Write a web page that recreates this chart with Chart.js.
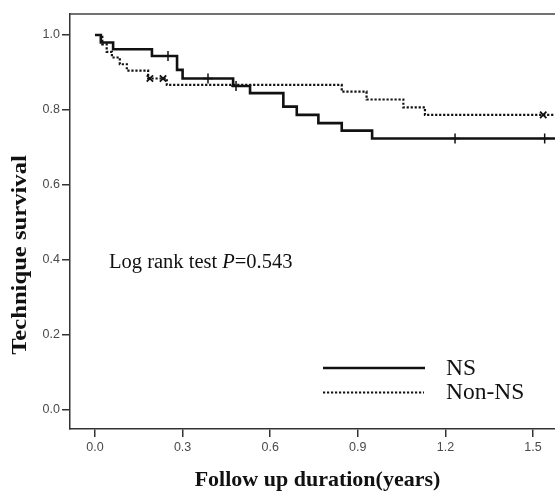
<!DOCTYPE html>
<html>
<head>
<meta charset="utf-8">
<script src="https://cdn.jsdelivr.net/npm/chart.js@4.4.1/dist/chart.umd.min.js"></script>
<style>
html,body{margin:0;padding:0;background:#fff;overflow:hidden;}
#wrap{width:555px;height:491px;overflow:hidden;position:relative;}
canvas{display:block;}
</style>
</head>
<body>
<div id="wrap"><canvas id="c" width="580" height="491" style="width:580px;height:491px"></canvas></div>
<script>
// ---- data ----
const nsTimes = [0, 0.020, 0.062, 0.195, 0.281, 0.300, 0.473, 0.531, 0.645, 0.691, 0.765, 0.845, 0.949, 1.60];
const nsSurv  = [1.0, 0.980, 0.962, 0.944, 0.907, 0.884, 0.864, 0.845, 0.809, 0.787, 0.765, 0.745, 0.724, 0.724];
const nonTimes = [0, 0.025, 0.040, 0.058, 0.085, 0.109, 0.182, 0.246, 0.845, 0.930, 1.056, 1.130, 1.60];
const nonSurv  = [1.0, 0.975, 0.955, 0.940, 0.922, 0.905, 0.884, 0.867, 0.849, 0.828, 0.807, 0.787, 0.787];
const nsCensorTimes = [0.250, 0.387, 0.483, 1.233, 1.540];
const nsCensorSurv  = [0.944, 0.884, 0.864, 0.724, 0.724];
const nonCensorTimes = [0.188, 0.233, 1.535];
const nonCensorSurv  = [0.884, 0.884, 0.787];
const xTicks = [0.0, 0.3, 0.6, 0.9, 1.2, 1.5];
const yTicks = [0.0, 0.2, 0.4, 0.6, 0.8, 1.0];
const seriesNames = ['NS', 'Non-NS'];
const xTitle = 'Follow up duration(years)';
const yTitle = 'Technique survival';

const pts = (t, s) => t.map((v, i) => ({x: v, y: s[i]}));
const INK = '#111';

const decor = {
  id: 'decor',
  afterDraw(chart) {
    const ctx = chart.ctx, a = chart.chartArea;
    ctx.save();
    // frame top & right
    ctx.strokeStyle = '#444';
    ctx.lineWidth = 1.5;
    ctx.beginPath();
    ctx.moveTo(a.left, a.top);
    ctx.lineTo(a.right, a.top);
    ctx.lineTo(a.right, a.bottom);
    ctx.stroke();
    // axis titles
    ctx.fillStyle = '#111';
    ctx.font = 'bold 22px "Liberation Serif", "Times New Roman", serif';
    ctx.textAlign = 'center';
    ctx.textBaseline = 'alphabetic';
    ctx.fillText(xTitle, (a.left + a.right) / 2, 486);
    ctx.save();
    ctx.translate(26, 255);
    ctx.rotate(-Math.PI / 2);
    ctx.scale(1.12, 1);
    ctx.fillText(yTitle, 0, 0);
    ctx.restore();
    // log rank text
    ctx.textAlign = 'left';
    let x = 109, y = 268;
    ctx.font = '20.5px "Liberation Serif", "Times New Roman", serif';
    const s1 = 'Log rank test ';
    ctx.fillText(s1, x, y); x += ctx.measureText(s1).width;
    ctx.font = 'italic 20.5px "Liberation Serif", "Times New Roman", serif';
    ctx.fillText('P', x, y); x += ctx.measureText('P').width;
    ctx.font = '20.5px "Liberation Serif", "Times New Roman", serif';
    ctx.fillText('=0.543', x, y);
    // legend
    ctx.strokeStyle = INK;
    ctx.lineWidth = 2.6;
    ctx.setLineDash([]);
    ctx.beginPath(); ctx.moveTo(323, 368); ctx.lineTo(425, 368); ctx.stroke();
    ctx.lineWidth = 2.2;
    ctx.setLineDash([2.2, 1.8]);
    ctx.beginPath(); ctx.moveTo(323, 392.5); ctx.lineTo(424, 392.5); ctx.stroke();
    ctx.setLineDash([]);
    ctx.font = '23.5px "Liberation Serif", "Times New Roman", serif';
    ctx.fillText(seriesNames[0], 446, 375);
    ctx.fillText(seriesNames[1], 446, 399);
    ctx.restore();
  }
};

new Chart(document.getElementById('c'), {
  type: 'line',
  data: {
    datasets: [
      { label: seriesNames[0], data: pts(nsTimes, nsSurv), stepped: 'before', borderColor: INK, borderWidth: 2.6, pointRadius: 0, fill: false },
      { label: seriesNames[1], data: pts(nonTimes, nonSurv), stepped: 'before', borderColor: INK, borderWidth: 2.2, borderDash: [2.2, 1.8], pointRadius: 0, fill: false },
      { label: 'NS censored', data: pts(nsCensorTimes, nsCensorSurv), showLine: false, pointStyle: 'cross', pointRadius: 5, pointBorderWidth: 1.5, pointBorderColor: INK, pointBackgroundColor: INK },
      { label: 'Non-NS censored', data: pts(nonCensorTimes, nonCensorSurv), showLine: false, pointStyle: 'crossRot', pointRadius: 4.5, pointBorderWidth: 1.8, pointBorderColor: INK, pointBackgroundColor: INK }
    ]
  },
  options: {
    responsive: false,
    animation: false,
    devicePixelRatio: 1,
    layout: { padding: { top: 14, right: 15, left: 0, bottom: 0 } },
    plugins: { legend: { display: false }, tooltip: { enabled: false } },
    scales: {
      x: {
        type: 'linear',
        min: -0.0856, max: 1.6096,
        afterFit(s) { s.height = 62; },
        afterBuildTicks(s) { s.ticks = xTicks.map(v => ({ value: v })); },
        ticks: { callback: v => v.toFixed(1), color: '#4a4a4a', font: { family: '"Liberation Sans", Arial, sans-serif', size: 12.5 }, padding: 3, maxRotation: 0 },
        grid: { drawOnChartArea: false, drawTicks: true, tickLength: 8, color: '#333', lineWidth: 1.5 },
        border: { display: true, color: '#333', width: 1.5 }
      },
      y: {
        type: 'linear',
        min: -0.0507, max: 1.056,
        afterFit(s) { s.width = 70; },
        afterBuildTicks(s) { s.ticks = yTicks.map(v => ({ value: v })); },
        ticks: { callback: v => v.toFixed(1), color: '#4a4a4a', font: { family: '"Liberation Sans", Arial, sans-serif', size: 12.5 }, padding: 2 },
        grid: { drawOnChartArea: false, drawTicks: true, tickLength: 8, color: '#333', lineWidth: 1.5 },
        border: { display: true, color: '#333', width: 1.5 }
      }
    }
  },
  plugins: [decor]
});
</script>
</body>
</html>
